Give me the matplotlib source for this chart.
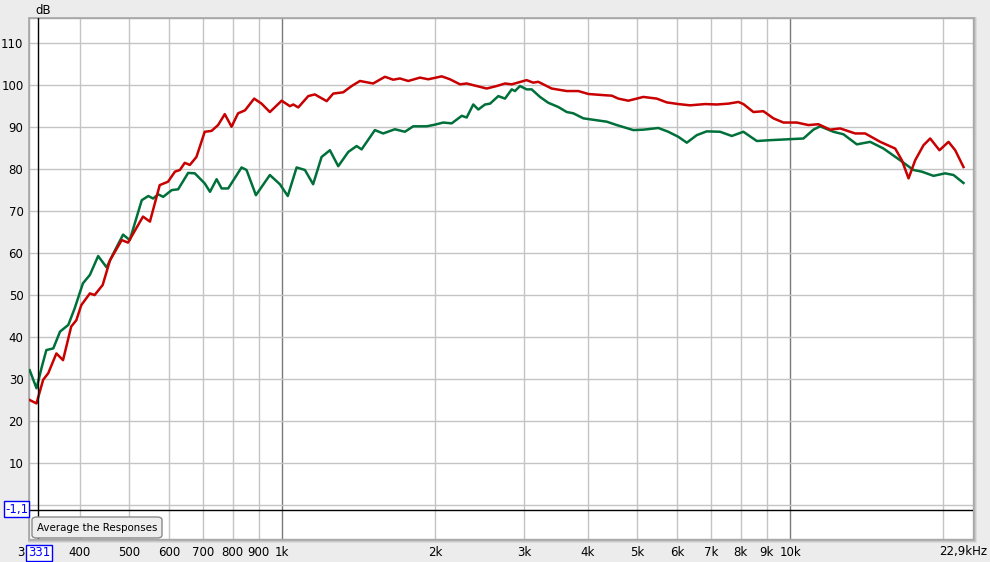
import matplotlib.pyplot as plt
import numpy as np
from matplotlib.patches import FancyBboxPatch, Rectangle
from matplotlib.ticker import FixedLocator, NullLocator

# Red response (Hz, dB)
red_freq = [319, 329, 339, 347, 360, 371, 385, 394, 403, 419, 428, 444, 459,
            484, 498, 533, 550, 575, 597, 616, 630, 644, 659, 679, 705, 727,
            749, 772, 796, 820, 846, 882, 912, 947, 999, 1037, 1053, 1077,
            1127, 1161, 1225, 1262, 1320, 1372, 1424, 1512, 1595, 1656, 1707,
            1773, 1869, 1941, 2063, 2142, 2241, 2310, 2417, 2529, 2647, 2748,
            2833, 3031, 3123, 3195, 3395, 3635, 3831, 4009, 4323, 4457, 4592,
            4805, 5143, 5465, 5718, 6027, 6357, 6803, 7172, 7559, 7911, 8092,
            8469, 8859, 9271, 9701, 10308, 10866, 11368, 11986, 12544, 13427,
            14049, 15044, 16098, 16595, 17100, 17620, 18299, 18862, 19672,
            20495, 21128, 21935]
red_db = [25.0, 24.2, 29.8, 31.4, 36.1, 34.5, 42.5, 44.0, 47.6, 50.4, 50.0,
          52.4, 58.3, 63.1, 62.5, 68.7, 67.5, 76.2, 77.0, 79.4, 79.8, 81.5,
          81.0, 82.9, 88.9, 89.1, 90.5, 93.1, 90.1, 93.3, 94.0, 96.8, 95.6,
          93.6, 96.3, 95.0, 95.4, 94.7, 97.4, 97.8, 96.2, 98.0, 98.3, 99.8,
          101.0, 100.4, 102.0, 101.3, 101.6, 101.0, 101.8, 101.4, 102.1,
          101.4, 100.2, 100.4, 99.8, 99.2, 99.8, 100.4, 100.2, 101.2, 100.6,
          100.8, 99.2, 98.6, 98.6, 97.9, 97.6, 97.5, 96.8, 96.3, 97.2, 96.8,
          95.9, 95.5, 95.2, 95.5, 95.4, 95.6, 96.0, 95.5, 93.6, 93.8, 92.1,
          91.1, 91.1, 90.5, 90.7, 89.4, 89.7, 88.5, 88.5, 86.5, 84.9, 82.1,
          77.8, 82.1, 85.7, 87.3, 84.5, 86.5, 84.5, 80.5]

# Green response (Hz, dB)
green_freq = [319, 329, 337, 344, 355, 366, 380, 391, 406, 419, 435, 452, 466,
              487, 502, 530, 546, 558, 571, 584, 607, 625, 654, 674, 705, 722,
              744, 761, 784, 833, 852, 889, 947, 991, 1027, 1069, 1110, 1152,
              1197, 1243, 1291, 1351, 1403, 1435, 1524, 1582, 1669, 1746,
              1813, 1927, 2001, 2078, 2158, 2259, 2310, 2380, 2435, 2510,
              2568, 2666, 2748, 2833, 2875, 2941, 3031, 3101, 3220, 3344,
              3499, 3635, 3745, 3919, 4132, 4358, 4559, 4915, 5143, 5505,
              5759, 6027, 6262, 6552, 6855, 7282, 7677, 8092, 8600, 9134,
              9851, 10622, 11113, 11456, 12167, 12734, 13530, 14372, 15270,
              16468, 17485, 18163, 19147, 20188, 20967, 21935]
green_db = [32.1, 27.8, 32.9, 36.9, 37.3, 41.3, 42.9, 46.8, 52.8, 54.8, 59.3,
            56.6, 59.9, 64.4, 63.1, 72.6, 73.6, 73.0, 74.0, 73.4, 75.0, 75.2,
            79.1, 79.0, 76.6, 74.6, 77.6, 75.4, 75.4, 80.4, 79.8, 73.8, 78.6,
            76.4, 73.6, 80.4, 79.8, 76.4, 82.9, 84.5, 80.7, 84.1, 85.5, 84.7,
            89.3, 88.5, 89.5, 88.9, 90.2, 90.2, 90.6, 91.1, 90.9, 92.7, 92.3,
            95.4, 94.2, 95.4, 95.6, 97.4, 96.8, 99.0, 98.6, 99.8, 99.0, 99.0,
            97.2, 95.8, 94.8, 93.6, 93.3, 92.1, 91.7, 91.3, 90.5, 89.3, 89.4,
            89.8, 88.9, 87.7, 86.3, 88.1, 89.0, 88.9, 87.9, 88.9, 86.7, 86.9,
            87.1, 87.3, 89.4, 90.2, 88.9, 88.3, 85.9, 86.5, 84.9, 82.1, 79.8,
            79.4, 78.4, 79.0, 78.6, 76.7]

# Axis ticks
x_ticks = [400, 500, 600, 700, 800, 900, 1000, 2000, 3000, 4000, 5000,
           6000, 7000, 8000, 9000, 10000]
x_labels = ["400", "500", "600", "700", "800", "900", "1k", "2k", "3k",
            "4k", "5k", "6k", "7k", "8k", "9k", "10k"]
x_grid = [400, 500, 600, 700, 800, 900, 2000, 3000, 4000, 5000, 6000, 7000,
          8000, 9000, 20000]
x_major = [1000, 10000]
y_grid = list(range(0, 111, 10))
y_ticks = list(range(10, 111, 10))

cursor_freq = 331
cursor_db = -1.1

W, H = 990, 562
fig = plt.figure(figsize=(W / 100, H / 100), dpi=100)
fig.patch.set_facecolor("#ececec")

left, right, top, bottom = 29, 973, 18, 539
ax = fig.add_axes([left / W, 1 - bottom / H, (right - left) / W, (bottom - top) / H])
ax.set_facecolor("white")

# soft shadow / frame behind plot area
for off, col in [(4, "#dcdcdc"), (3, "#c8c8c8"), (2, "#b4b4b4")]:
    fig.patches.append(Rectangle(((left - 1) / W, 1 - (bottom + off) / H),
                                 (right - left + off + 1) / W,
                                 (bottom - top + off + 1) / H,
                                 transform=fig.transFigure, facecolor=col,
                                 edgecolor="none", zorder=-1))

ax.set_xscale("log")
ax.set_xlim(318, 22900)
ax.set_ylim(-8.1, 116)

for f in x_grid:
    ax.axvline(f, color="#c4c4c4", lw=1.0, zorder=1)
for f in x_major:
    ax.axvline(f, color="#7a7a7a", lw=1.0, zorder=1)
for v in y_grid:
    ax.axhline(v, color="#c4c4c4", lw=1.0, zorder=1)

ax.plot(green_freq, green_db, color="#00703a", lw=1.8, zorder=3,
        solid_joinstyle="round")
ax.plot(red_freq, red_db, color="#c80000", lw=1.8, zorder=4,
        solid_joinstyle="round")

# cursor lines
ax.axvline(cursor_freq, color="black", lw=1.0, zorder=5)
ax.axhline(cursor_db, color="black", lw=1.0, zorder=5)

ax.xaxis.set_major_locator(FixedLocator(x_ticks))
ax.xaxis.set_minor_locator(NullLocator())
ax.set_xticklabels(x_labels)
ax.set_yticks(y_ticks)
ax.set_yticklabels([str(v) for v in y_ticks])
ax.tick_params(axis="both", length=0, labelsize=8.5, colors="black")
ax.tick_params(axis="x", pad=5)
ax.tick_params(axis="y", pad=4)

for s in ax.spines.values():
    s.set_color("#a8a8a8")
    s.set_linewidth(1.0)

fig.text(35 / W, 1 - 10 / H, "dB", fontsize=8.5, va="center", ha="left")
fig.text(987 / W, 1 - 552 / H, "22,9kHz", fontsize=8.5, va="center", ha="right")
fig.text(25 / W, 1 - 552 / H, "3", fontsize=8.5, va="center", ha="right")

# cursor readouts
fig.text(16.5 / W, 1 - 509 / H, "-1,1", fontsize=8.5, color="#0000ff",
         ha="center", va="center", zorder=10,
         bbox=dict(boxstyle="square,pad=0.12", facecolor="white",
                   edgecolor="#0000ff", lw=1.0))
fig.text(39 / W, 1 - 553 / H, "331", fontsize=8.5, color="#0000ff",
         ha="center", va="center", zorder=10,
         bbox=dict(boxstyle="square,pad=0.12", facecolor="white",
                   edgecolor="#0000ff", lw=1.0))

# button
btn = FancyBboxPatch((32 / W, 1 - 538 / H), 130 / W, 21 / H,
                     boxstyle="round,pad=0,rounding_size=0.005",
                     transform=fig.transFigure, facecolor="#eeeeee",
                     edgecolor="#8a8a8a", lw=1.0, zorder=8)
fig.patches.append(btn)
fig.text(97 / W, 1 - 528 / H, "Average the Responses", fontsize=7.4,
         ha="center", va="center", zorder=9)

fig.savefig("out.png", dpi=100, facecolor=fig.get_facecolor())
